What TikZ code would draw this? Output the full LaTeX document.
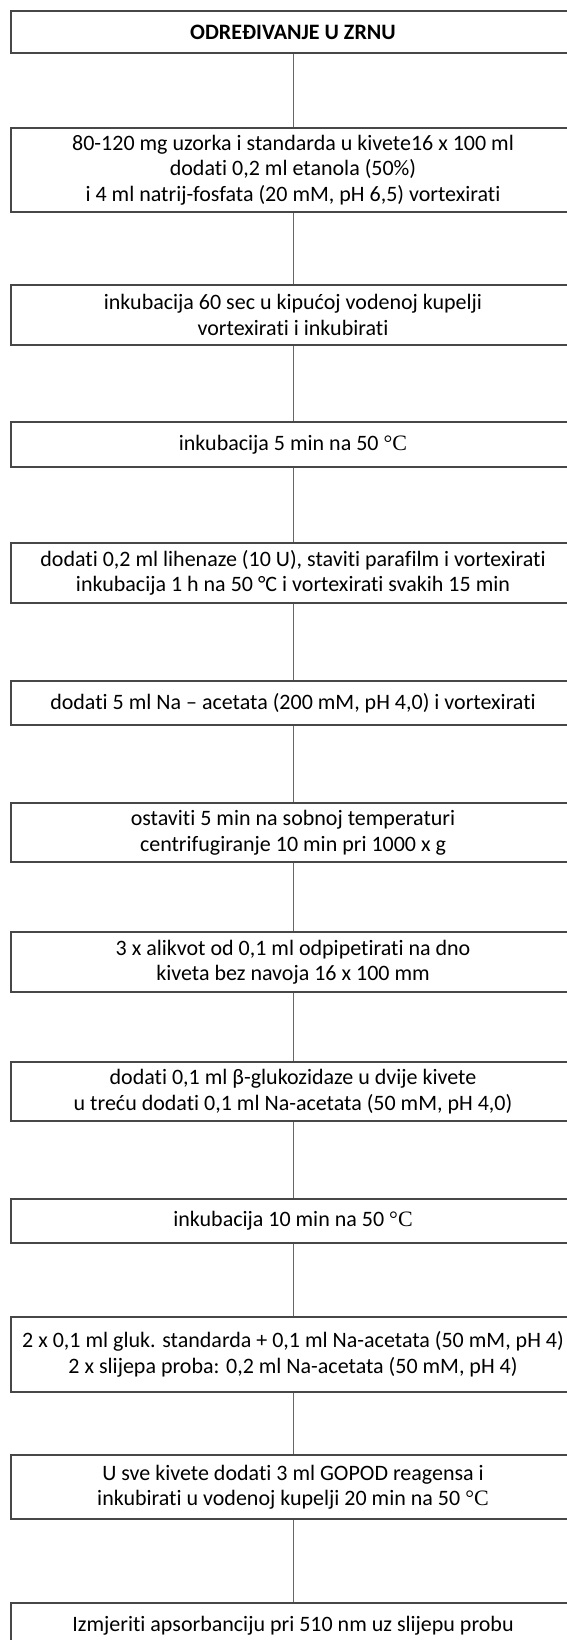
\documentclass[tikz,border=0pt]{standalone}
\usepackage{fontspec}
\setmainfont{Carlito}[Ligatures={NoCommon,TeX}]
\newfontfamily\serifC{Liberation Serif}
\newcommand{\degC}{{\serifC °C}}
\begin{document}
\begin{tikzpicture}[x=1pt,y=-1pt,
  stepbox/.style={draw=black!72, line width=1.1pt, minimum width=564pt, inner sep=0pt,
    align=center, font=\fontsize{22}{25.5}\selectfont, text=black},
  conn/.style={draw=black!60, line width=1pt}]
\useasboundingbox (0,0) rectangle (566,1640);
\node[stepbox, minimum height=42pt] (b1) at (293,32) {\textbf{ODREĐIVANJE U ZRNU}};
\node[stepbox, minimum height=84pt] (b2) at (293,170) {80-120 mg uzorka i standarda u kivete16 x 100 ml\\dodati 0,2 ml etanola (50\%)\\i 4 ml natrij-fosfata (20 mM, pH 6,5) vortexirati};
\node[stepbox, minimum height=60pt] (b3) at (293,315) {inkubacija 60 sec u kipućoj vodenoj kupelji\\vortexirati i inkubirati};
\node[stepbox, minimum height=45pt] (b4) at (293,444.5) {inkubacija 5 min na 50 \degC};
\node[stepbox, minimum height=60pt] (b5) at (293,573) {dodati 0,2 ml lihenaze (10 U), staviti parafilm i vortexirati\\inkubacija 1 h na 50 °C i vortexirati svakih 15 min};
\node[stepbox, minimum height=44pt] (b6) at (293,703) {dodati 5 ml Na – acetata (200 mM, pH 4,0) i vortexirati};
\node[stepbox, minimum height=59pt] (b7) at (293,832.5) {ostaviti 5 min na sobnoj temperaturi\\centrifugiranje 10 min pri 1000 x g};
\node[stepbox, minimum height=60pt] (b8) at (293,962) {3 x alikvot od 0,1 ml odpipetirati na dno\\kiveta bez navoja 16 x 100 mm};
\node[stepbox, minimum height=59pt] (b9) at (293,1091.5) {dodati 0,1 ml β-glukozidaze u dvije kivete\\u treću dodati 0,1 ml Na-acetata (50 mM, pH 4,0)};
\node[stepbox, minimum height=44pt] (b10) at (293,1221) {inkubacija 10 min na 50 \degC};
\node[stepbox, minimum height=75pt] (b11) at (293,1354.5) {2 x 0,1 ml gluk. standarda + 0,1 ml Na-acetata (50 mM, pH 4)\\2 x slijepa proba: 0,2 ml Na-acetata (50 mM, pH 4)};
\node[stepbox, minimum height=64pt] (b12) at (293,1487) {U sve kivete dodati 3 ml GOPOD reagensa i\\inkubirati u vodenoj kupelji 20 min na 50 \degC};
\node[stepbox, minimum height=45pt] (b13) at (293,1625.5) {Izmjeriti apsorbanciju pri 510 nm uz slijepu probu};
\foreach \a/\b in {b1/b2,b2/b3,b3/b4,b4/b5,b5/b6,b6/b7,b7/b8,b8/b9,b9/b10,b10/b11,b11/b12,b12/b13}
  \draw[conn] (\a.south) -- (\b.north);
\end{tikzpicture}
\end{document}
